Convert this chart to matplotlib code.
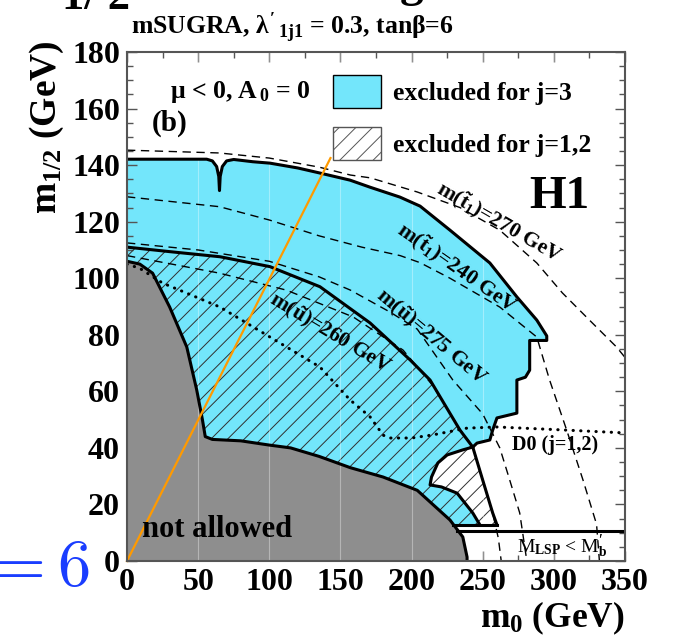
import numpy as np
import matplotlib
matplotlib.use('Agg')
import matplotlib.pyplot as plt
from matplotlib.patches import Rectangle

# fonts: bold Times-like look everywhere
plt.rcParams['font.family'] = ['Liberation Serif', 'DejaVu Serif']
plt.rcParams['font.weight'] = 'bold'
plt.rcParams['mathtext.fontset'] = 'custom'
plt.rcParams['mathtext.rm'] = 'Liberation Serif:bold'
plt.rcParams['mathtext.it'] = 'Liberation Serif:bold'
plt.rcParams['mathtext.bf'] = 'Liberation Serif:bold'
plt.rcParams['hatch.linewidth'] = 0.7

# ---------------------------------------------------------------- data
# region excluded for j=3 (outer boundary, m0 / m1/2 in GeV)
blue_m0 = [0, 56, 60, 63, 64.5, 65, 65.5, 67, 70, 75, 88.5, 100.5, 120, 135.6, 156.7,
           170.8, 191.8, 206, 227, 255, 274, 288, 295, 295, 283, 283, 280, 274, 274,
           260, 257, 255, 246, 243]
blue_m12 = [142.1, 142.1, 141.5, 139.5, 136, 131, 136, 139.5, 141.5, 142, 141.2, 140.7,
            139, 137.2, 134.7, 132.2, 128.7, 125.5, 117, 105.4, 93.4, 85.2, 79.6, 78,
            78, 67.5, 65, 64, 52.3, 50.6, 46.3, 42.8, 41.7, 40.3]

# region excluded for j=1,2 (outer boundary)
hat_m0 = [0, 30.2, 65.4, 100.5, 135.6, 170.8, 199, 213, 234, 243, 250, 257, 260]
hat_m12 = [111, 109.4, 107.6, 104.1, 97, 84.2, 71.1, 64, 46.3, 40.3, 28.6, 17, 12.8]
hat_floor_m12 = 12.8
hat_floor_m0 = [229, 260]

# island excluded for j=1,2 only
isl_m0 = [243, 236, 225, 218.5, 214, 213, 221, 232, 237.5, 243, 248]
isl_m12 = [40.3, 39.3, 37.5, 34.7, 29.7, 26.9, 26.2, 24, 20.5, 17, 12.8]

# theoretically not allowed region
grey_m0 = [0, 9, 18, 30, 42, 49, 53, 55, 60, 80, 100, 115, 135, 157, 180, 204, 227,
           236, 239, 239]
grey_m12 = [106, 105, 101.8, 89.8, 75.7, 60.5, 50, 44, 43, 42.5, 41, 40, 37, 33,
            29.7, 25, 14.5, 8.5, 1.4, 0]

# iso-mass contours
st270_m0 = [0, 65, 100, 135, 157, 171, 204, 234, 262, 288, 306, 325, 344, 350]
st270_m12 = [145.3, 144.3, 142.5, 139.3, 136.5, 135.5, 130.5, 125, 117, 105.4, 94.8,
             85.2, 75.7, 72]
st240_m0 = [0, 65, 100, 135, 165, 192, 206, 227, 262, 288, 297, 309, 320.5, 330, 332]
st240_m12 = [128.8, 125.3, 120.6, 115, 111, 108, 105.5, 100, 89.8, 79.2, 64, 46.3,
             28.6, 13, 0]
su275_m0 = [0, 50, 100, 135, 157, 185, 204, 229, 250, 262, 269, 276, 281]
su275_m12 = [112.5, 110, 106, 100.5, 95.8, 88, 82, 64, 52, 40, 28.6, 17, 0]
su260_m0 = [0, 65, 112, 159, 194, 215, 234, 243, 250, 257, 261, 263]
su260_m12 = [108, 101.8, 95.8, 86.3, 74.6, 62, 46.5, 40.5, 28.8, 17, 8, 0]

# D0 limit (j=1,2)
d0_m0 = [0, 9, 25, 65.4, 100.5, 135.6, 156.7, 170.8, 180, 185, 200, 215, 239, 260,
         300, 350]
d0_m12 = [105, 103.5, 98.3, 89.8, 79.2, 68.6, 57, 51, 44.5, 43.5, 43.5, 44.6, 47,
          47.4, 46.5, 45.3]

# M_LSP < M_b limit
lsp_m12 = 10.6
lsp_m0 = [232, 350]

# orange overlay line
orange_m0 = [0, 143]
orange_m12 = [0, 142.5]

blue = '#73e6fb'
grey = '#8e8e8e'

# ---------------------------------------------------------------- figure
fig = plt.figure(figsize=(6.73, 6.36), dpi=100)
ax = fig.add_axes([0.1887, 0.1179, 0.740, 0.8003])

# blue area: outer boundary, then down the j=1,2 line to the floor
bx = blue_m0 + hat_m0[-4:] + [hat_floor_m0[0], 0]
by = blue_m12 + hat_m12[-4:] + [hat_floor_m12, 0]
ax.fill(bx, by, color=blue, lw=0, zorder=1)

# white island (j=1,2 only)
ix = isl_m0 + hat_m0[-1:] + hat_m0[-2:-4:-1]
iy = isl_m12 + hat_m12[-1:] + hat_m12[-2:-4:-1]
ax.fill(ix, iy, color='white', lw=0, zorder=2)

# hatching for j=1,2
hx = hat_m0 + [hat_floor_m0[0], 0]
hy = hat_m12 + [hat_floor_m12, 0]
ax.fill(hx, hy, facecolor='none', edgecolor='#303030', hatch='//', lw=0, zorder=3)

# not allowed
ax.fill(grey_m0 + [0], grey_m12 + [0], color=grey, lw=0, zorder=4)

# faint vertical grid
for xv in range(50, 350, 50):
    ax.axvline(xv, color='white', alpha=0.35, lw=0.8, zorder=5)

# contours
dash = (0, (6, 4))
for xs, ys in [(st270_m0, st270_m12), (st240_m0, st240_m12),
               (su275_m0, su275_m12), (su260_m0, su260_m12)]:
    ax.plot(xs, ys, color='black', lw=1.0, ls=dash, zorder=6)
ax.plot(d0_m0, d0_m12, color='black', lw=2.2, ls=(0, (0.1, 2.4)),
        dash_capstyle='round', zorder=6)

# thick outlines
ax.plot(blue_m0, blue_m12, color='black', lw=2.2, zorder=7)
ax.plot(hat_m0, hat_m12, color='black', lw=2.2, zorder=7)
ax.plot(hat_floor_m0, [hat_floor_m12] * 2, color='black', lw=2.2, zorder=7)
ax.plot(isl_m0, isl_m12, color='black', lw=2.2, zorder=7)
ax.plot(grey_m0, grey_m12, color='black', lw=2.2, zorder=7)
ax.plot(lsp_m0, [lsp_m12] * 2, color='black', lw=2.2, zorder=7)

ax.plot(orange_m0, orange_m12, color='#ff9a00', lw=1.6, zorder=8, clip_on=False)

# axes
ax.set_xlim(0, 350)
ax.set_ylim(0, 180)
ax.set_xticks(np.arange(0, 351, 50))
ax.set_xticks(np.arange(0, 351, 25), minor=True)
ax.set_yticks(np.arange(0, 181, 20))
ax.set_yticks(np.arange(0, 181, 5), minor=True)
ax.tick_params(which='both', direction='in', top=True, right=True,
               color='#555555', labelsize=23, pad=5)
ax.tick_params(which='major', length=7, width=1.0)
ax.tick_params(which='minor', length=4, width=1.0)
for s in ax.spines.values():
    s.set_color('#555555')
    s.set_linewidth(1.5)
    s.set_zorder(10)

# legend boxes
ax.add_patch(Rectangle((0.4137, 0.890), 0.0964, 0.0648, transform=ax.transAxes,
                       facecolor=blue, edgecolor='black', lw=1.0, zorder=9))
ax.add_patch(Rectangle((0.4137, 0.788), 0.0964, 0.0648, transform=ax.transAxes,
                       facecolor='white', edgecolor='#555555', hatch='//', lw=1.0,
                       zorder=9))
ax.text(0.534, 0.919, 'excluded for j=3', transform=ax.transAxes, fontsize=18.5,
        va='center', zorder=9)
ax.text(0.534, 0.817, 'excluded for j=1,2', transform=ax.transAxes, fontsize=18.5,
        va='center', zorder=9)

ax.text(0.086, 0.921, r'$\mu$ < 0, A$_{\,0}$ = 0', transform=ax.transAxes,
        fontsize=18.5, va='center', zorder=9)
ax.text(0.05, 0.859, '(b)', transform=ax.transAxes, fontsize=21, va='center', zorder=9)
ax.text(0.869, 0.715, 'H1', transform=ax.transAxes, fontsize=34, ha='center',
        va='center', zorder=9)
ax.text(0.030, 0.061, 'not allowed', transform=ax.transAxes, fontsize=22,
        va='center', zorder=9)
ax.text(0.773, 0.228, 'D0 (j=1,2)', transform=ax.transAxes, fontsize=14.5,
        va='center', zorder=9)
ax.text(0.783, 0.0275, r'M$_{\rm LSP}$ < M$_{\rm b}^{\prime}$', transform=ax.transAxes,
        fontsize=14, va='center', zorder=9, fontweight='normal')

# curve labels
lbl = dict(fontsize=15.5, ha='center', va='center', zorder=9)
ax.text(262, 119.9, r'm($\tilde{\rm t}_{1}$)=270 GeV', rotation=-30, **lbl)
ax.text(232, 103.6, r'm($\tilde{\rm t}_{1}$)=240 GeV', rotation=-35, **lbl)
ax.text(214, 79.2, r'm($\tilde{\rm u}$)=275 GeV', rotation=-40, **lbl)
ax.text(142.7, 80.6, r'm($\tilde{\rm u}$)=260 GeV', rotation=-31, **lbl)

# titles and axis labels
fig.text(0.435, 0.957, r"mSUGRA, $\lambda'_{\,1j1}$ = 0.3, tan$\beta$=6",
         fontsize=18.5, ha='center', va='center')
fig.text(625 / 673, 1 - 618 / 636, r'm$_{0}$ (GeV)', fontsize=25.5, ha='right',
         va='center')
fig.text(47 / 673, 1 - 40 / 636, r'm$_{1/2}$ (GeV)', fontsize=27, rotation=90,
         ha='center', va='top')

# cut-off overlay pieces of the surrounding page
fig.text(90 / 673, 1 - 586 / 636, r'$=6$', math_fontfamily='cm', fontsize=48,
         color='#1a3dff', ha='right', va='baseline')
fig.text(62 / 673, 1 - 9 / 636, '1/ 2', fontsize=32, va='baseline')
fig.text(400 / 673, 1 + 4 / 636, 'g', fontsize=34, va='baseline')

fig.savefig('out.png', dpi=100)
